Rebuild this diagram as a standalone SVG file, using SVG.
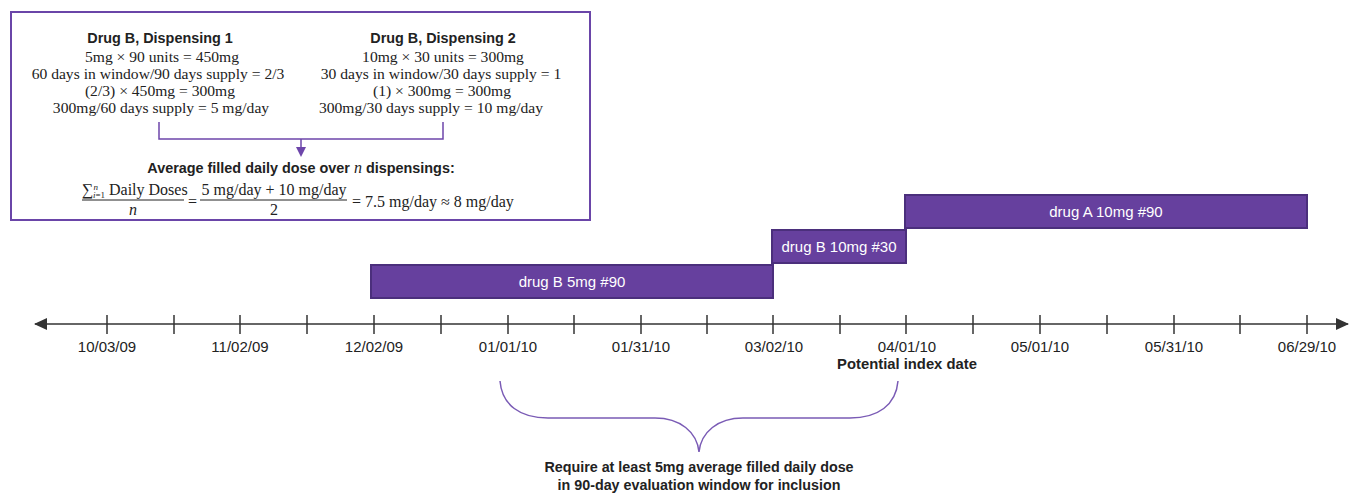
<svg xmlns="http://www.w3.org/2000/svg" width="1369" height="503" viewBox="0 0 1369 503">
<style>
.sans{font-family:"Liberation Sans",Arial,sans-serif;fill:#222}
.b{font-weight:bold}
.serif{font-family:"Liberation Serif","Times New Roman",serif;fill:#222;font-size:15.6px}
.fm{font-family:"Liberation Serif","Times New Roman",serif;fill:#222;font-size:16px}
.bar{fill:#66409e;stroke:#4b2f7c;stroke-width:2}
.barText{font-family:"Liberation Sans",Arial,sans-serif;font-size:15px;fill:#fff}
.date{font-family:"Liberation Sans",Arial,sans-serif;font-size:15px;fill:#222}
.tick{stroke:#333;stroke-width:1.5}
.conn{fill:none;stroke:#6d46aa;stroke-width:1.5}
</style>
<defs>
<marker id="ah" markerWidth="10" markerHeight="10" refX="8" refY="5" orient="auto" markerUnits="userSpaceOnUse">
<path d="M0,0 L10,5 L0,10 z" fill="#6d46aa"/>
</marker>
<marker id="ax" markerWidth="14" markerHeight="12" refX="12" refY="6" orient="auto-start-reverse" markerUnits="userSpaceOnUse">
<path d="M0,0 L13,6 L0,12 z" fill="#333"/>
</marker>
</defs>

<g id="calc-box">
<rect x="11" y="12" width="579" height="208" fill="#fff" stroke="#6a45a8" stroke-width="2"/>
<g id="dispensing1" text-anchor="middle">
<text class="sans b" x="160" y="43" font-size="14.4">Drug B, Dispensing 1</text>
<text class="serif" x="162" y="62">5mg × 90 units = 450mg</text>
<text class="serif" x="158" y="79">60 days in window/90 days supply = 2/3</text>
<text class="serif" x="160" y="96">(2/3) × 450mg = 300mg</text>
<text class="serif" x="161" y="113">300mg/60 days supply =  5 mg/day</text>
</g>
<g id="dispensing2" text-anchor="middle">
<text class="sans b" x="443" y="43" font-size="14.4">Drug B, Dispensing 2</text>
<text class="serif" x="443" y="62">10mg × 30 units = 300mg</text>
<text class="serif" x="441" y="79">30 days in window/30 days supply = 1</text>
<text class="serif" x="442" y="96">(1) × 300mg = 300mg</text>
<text class="serif" x="431" y="113">300mg/30 days supply =  10 mg/day</text>
</g>
<g id="average">
<text class="sans b" x="301" y="173" font-size="14.4" text-anchor="middle">Average filled daily dose over <tspan font-family="Liberation Serif,serif" font-style="italic" font-weight="normal" font-size="16">n</tspan> dispensings:</text>
<text class="fm" x="82" y="195">∑<tspan font-size="9" dy="-5" font-style="italic">n</tspan><tspan font-size="9" dy="8" dx="-5"><tspan font-style="italic">i</tspan>=1</tspan><tspan dy="-3"> Daily Doses</tspan></text>
<line x1="82" y1="200" x2="184" y2="200" stroke="#222" stroke-width="1"/>
<text class="fm" x="133" y="215" text-anchor="middle" font-style="italic">n</text>
<text class="fm" x="188" y="207">=</text>
<text class="fm" x="274" y="195" text-anchor="middle" font-size="15.2">5 mg/day + 10 mg/day</text>
<line x1="200" y1="200" x2="347" y2="200" stroke="#222" stroke-width="1"/>
<text class="fm" x="274" y="215" text-anchor="middle">2</text>
<text class="fm" x="352" y="207">= 7.5 mg/day ≈ 8 mg/day</text>
</g>
</g>

<g id="connectors">
<path class="conn" d="M159,122 V139 H443 V122"/>
<line class="conn" x1="301" y1="139" x2="301" y2="155" marker-end="url(#ah)"/>
<path d="M500,381 C502,405 520,418 548,418 L655,418 C680,418 697,432 699,452 C701,432 718,418 743,418 L850,418 C878,418 896,405 898,381" fill="none" stroke="#7a5bb5" stroke-width="1.5"/>
</g>

<g id="timeline">
<line x1="35" y1="324" x2="1348" y2="324" stroke="#333" stroke-width="1.5" marker-start="url(#ax)" marker-end="url(#ax)"/>
<g class="tick">
<line x1="107" y1="315" x2="107" y2="334"/>
<line x1="174" y1="315" x2="174" y2="334"/>
<line x1="240" y1="315" x2="240" y2="334"/>
<line x1="307" y1="315" x2="307" y2="334"/>
<line x1="374" y1="315" x2="374" y2="334"/>
<line x1="441" y1="315" x2="441" y2="334"/>
<line x1="508" y1="315" x2="508" y2="334"/>
<line x1="574" y1="315" x2="574" y2="334"/>
<line x1="641" y1="315" x2="641" y2="334"/>
<line x1="707" y1="315" x2="707" y2="334"/>
<line x1="773" y1="315" x2="773" y2="334"/>
<line x1="840" y1="315" x2="840" y2="334"/>
<line x1="906" y1="315" x2="906" y2="334"/>
<line x1="973" y1="315" x2="973" y2="334"/>
<line x1="1040" y1="315" x2="1040" y2="334"/>
<line x1="1107" y1="315" x2="1107" y2="334"/>
<line x1="1174" y1="315" x2="1174" y2="334"/>
<line x1="1240" y1="315" x2="1240" y2="334"/>
<line x1="1307" y1="315" x2="1307" y2="334"/>
</g>
<g text-anchor="middle">
<text class="date" x="107" y="352">10/03/09</text>
<text class="date" x="240" y="352">11/02/09</text>
<text class="date" x="374" y="352">12/02/09</text>
<text class="date" x="508" y="352">01/01/10</text>
<text class="date" x="641" y="352">01/31/10</text>
<text class="date" x="774" y="352">03/02/10</text>
<text class="date" x="907" y="352">04/01/10</text>
<text class="date" x="1040" y="352">05/01/10</text>
<text class="date" x="1174" y="352">05/31/10</text>
<text class="date" x="1307" y="352">06/29/10</text>
<text class="sans b" x="907" y="369" font-size="14.8">Potential index date</text>
</g>
</g>

<g id="bar-drugB-5mg">
<rect class="bar" x="371" y="265" width="402" height="33"/>
<text class="barText" x="572" y="287" text-anchor="middle">drug B 5mg #90</text>
</g>
<g id="bar-drugB-10mg">
<rect class="bar" x="772" y="230" width="134" height="33"/>
<text class="barText" x="839" y="252" text-anchor="middle">drug B 10mg #30</text>
</g>
<g id="bar-drugA-10mg">
<rect class="bar" x="905" y="195" width="402" height="33"/>
<text class="barText" x="1106" y="217" text-anchor="middle">drug A 10mg #90</text>
</g>

<g id="note" text-anchor="middle">
<text class="sans b" x="699" y="472" font-size="14.3">Require at least 5mg average filled daily dose</text>
<text class="sans b" x="699" y="490" font-size="14.3">in 90-day evaluation window for inclusion</text>
</g>
</svg>
